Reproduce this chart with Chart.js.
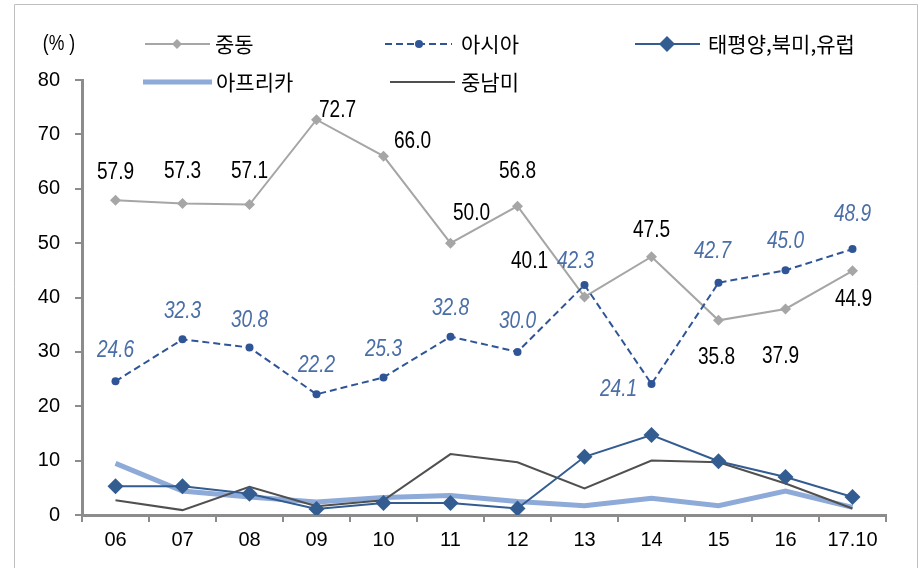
<!DOCTYPE html>
<html>
<head>
<meta charset="utf-8">
<script src="https://cdn.jsdelivr.net/npm/chart.js@4.4.1/dist/chart.umd.min.js"></script>
<style>
  html, body { margin: 0; padding: 0; background: #fff; }
</style>
</head>
<body>
<canvas id="chart" width="922" height="568"></canvas>
<script>
const years = ['06', '07', '08', '09', '10', '11', '12', '13', '14', '15', '16', '17.10'];
const middleEast = [57.9, 57.3, 57.1, 72.7, 66.0, 50.0, 56.8, 40.1, 47.5, 35.8, 37.9, 44.9];
const asia = [24.6, 32.3, 30.8, 22.2, 25.3, 32.8, 30.0, 42.3, 24.1, 42.7, 45.0, 48.9];
const pacificNaEurope = [5.3, 5.3, 3.9, 1.1, 2.2, 2.2, 1.2, 10.7, 14.7, 9.9, 7.0, 3.3];
const africa = [9.5, 4.4, 3.3, 2.4, 3.2, 3.6, 2.5, 1.7, 3.1, 1.7, 4.4, 1.4];
const latinAmerica = [2.7, 0.9, 5.2, 1.6, 2.7, 11.2, 9.7, 4.9, 10.0, 9.7, 5.8, 1.2];

const numFont = '"Liberation Sans", Arial, sans-serif';
const krFont = '"Noto Sans CJK KR", "Noto Sans", sans-serif';

// label offsets (dx, dy) from each point
const meLabelPos = [[0,-28],[0,-32],[0,-33],[21,-9],[29,-14],[21,-29],[0,-34],[-55,-35],[0,-26],[-2,37],[-5,48],[1,29]];
const asiaLabelPos = [[0,-31],[0,-28],[0,-27],[0,-29],[0,-28],[0,-28],[0,-30],[-9,-23],[-33,6],[-6,-31],[0,-29],[0,-34]];

// the original uses a condensed face, squeeze text horizontally
function narrowText(ctx, text, x, y, sx) {
    ctx.save();
    ctx.translate(x, y);
    ctx.scale(sx, 1);
    ctx.fillText(text, 0, 0);
    ctx.restore();
}

const valueLabels = {
    id: 'valueLabels',
    afterDatasetsDraw(chart) {
        const ctx = chart.ctx;
        ctx.save();
        ctx.textAlign = 'center';
        ctx.textBaseline = 'middle';
        // 중동
        ctx.font = '23px ' + numFont;
        ctx.fillStyle = '#000';
        chart.getDatasetMeta(0).data.forEach(function (pt, i) {
            narrowText(ctx, middleEast[i].toFixed(1), pt.x + meLabelPos[i][0], pt.y + meLabelPos[i][1], 0.83);
        });
        // 아시아
        ctx.font = 'italic 23px ' + numFont;
        ctx.fillStyle = '#4a6ea6';
        chart.getDatasetMeta(1).data.forEach(function (pt, i) {
            narrowText(ctx, asia[i].toFixed(1), pt.x + asiaLabelPos[i][0], pt.y + asiaLabelPos[i][1], 0.83);
        });
        ctx.restore();
    }
};

function diamond(ctx, x, y, r, color) {
    ctx.beginPath();
    ctx.moveTo(x, y - r);
    ctx.lineTo(x + r, y);
    ctx.lineTo(x, y + r);
    ctx.lineTo(x - r, y);
    ctx.closePath();
    ctx.fillStyle = color;
    ctx.fill();
}

const legendAndFrame = {
    id: 'legendAndFrame',
    afterDraw(chart) {
        const ctx = chart.ctx;
        ctx.save();
        // outer frame (no bottom edge visible)
        ctx.strokeStyle = '#bfbfbf';
        ctx.lineWidth = 1;
        ctx.beginPath();
        ctx.moveTo(14.5, 570);
        ctx.lineTo(14.5, 4.5);
        ctx.lineTo(917.5, 4.5);
        ctx.lineTo(917.5, 570);
        ctx.stroke();

        ctx.textBaseline = 'middle';
        ctx.textAlign = 'center';
        ctx.fillStyle = '#000';
        ctx.font = '22px ' + numFont;
        narrowText(ctx, '(% )', 59, 44, 0.8);

        ctx.textAlign = 'left';
        ctx.font = '21px ' + krFont;

        // 중동
        ctx.strokeStyle = '#a6a6a6';
        ctx.lineWidth = 2;
        ctx.beginPath(); ctx.moveTo(145, 44); ctx.lineTo(210, 44); ctx.stroke();
        diamond(ctx, 177, 44, 5, '#a6a6a6');
        ctx.fillStyle = '#000';
        ctx.fillText('중동', 215, 44);

        // 아시아
        ctx.strokeStyle = '#2f5597';
        ctx.setLineDash([7, 4]);
        ctx.beginPath(); ctx.moveTo(385, 44); ctx.lineTo(452, 44); ctx.stroke();
        ctx.setLineDash([]);
        ctx.beginPath(); ctx.arc(419, 44, 4, 0, Math.PI * 2);
        ctx.fillStyle = '#2f5597'; ctx.fill();
        ctx.fillStyle = '#000';
        ctx.fillText('아시아', 461, 44);

        // 태평양,북미,유럽
        ctx.strokeStyle = '#335c91';
        ctx.beginPath(); ctx.moveTo(635, 44); ctx.lineTo(700, 44); ctx.stroke();
        diamond(ctx, 667, 44, 8, '#335c91');
        ctx.fillStyle = '#000';
        ctx.fillText('태평양,북미,유럽', 708, 44);

        // 아프리카
        ctx.strokeStyle = '#8eaad8';
        ctx.lineWidth = 5;
        ctx.beginPath(); ctx.moveTo(143, 82); ctx.lineTo(212, 82); ctx.stroke();
        ctx.fillText('아프리카', 216, 82);

        // 중남미
        ctx.strokeStyle = '#505050';
        ctx.lineWidth = 2;
        ctx.beginPath(); ctx.moveTo(390, 82); ctx.lineTo(455, 82); ctx.stroke();
        ctx.fillText('중남미', 461, 82);
        ctx.restore();
    }
};

const config = {
    type: 'line',
    data: {
        labels: years,
        datasets: [
            {
                label: '중동',
                data: middleEast,
                borderColor: '#a6a6a6',
                backgroundColor: '#a6a6a6',
                borderWidth: 2,
                pointStyle: 'rectRot',
                pointRadius: 5.5,
                pointBorderWidth: 0,
                order: 2
            },
            {
                label: '아시아',
                data: asia,
                borderColor: '#2f5597',
                backgroundColor: '#2f5597',
                borderWidth: 2,
                borderDash: [7, 4],
                pointStyle: 'circle',
                pointRadius: 4,
                pointBorderWidth: 0,
                order: 1
            },
            {
                label: '태평양,북미,유럽',
                data: pacificNaEurope,
                borderColor: '#335c91',
                backgroundColor: '#335c91',
                borderWidth: 2,
                pointStyle: 'rectRot',
                pointRadius: 8,
                pointBorderWidth: 0,
                order: 3
            },
            {
                label: '아프리카',
                data: africa,
                borderColor: '#8eaad8',
                backgroundColor: '#8eaad8',
                borderWidth: 5,
                pointRadius: 0,
                order: 5
            },
            {
                label: '중남미',
                data: latinAmerica,
                borderColor: '#505050',
                backgroundColor: '#505050',
                borderWidth: 2,
                pointRadius: 0,
                order: 4
            }
        ]
    },
    options: {
        responsive: false,
        animation: false,
        layout: { padding: { left: 0, top: 80, right: 36, bottom: 0 } },
        plugins: {
            legend: { display: false },
            tooltip: { enabled: false }
        },
        scales: {
            x: {
                offset: true,
                grid: {
                    offset: true,
                    drawOnChartArea: false,
                    drawTicks: true,
                    tickLength: 7,
                    color: '#8c8c8c',
                    lineWidth: 2
                },
                border: { color: '#8c8c8c', width: 3 },
                ticks: { color: '#000', font: { family: numFont, size: 20 }, padding: 6, maxRotation: 0 },
                afterFit: function (scale) { scale.height = 53; }
            },
            y: {
                min: 0,
                max: 80,
                grid: {
                    drawOnChartArea: false,
                    drawTicks: true,
                    tickLength: 7,
                    color: '#8c8c8c',
                    lineWidth: 2
                },
                border: { color: '#8c8c8c', width: 3 },
                ticks: { stepSize: 10, color: '#000', font: { family: numFont, size: 20 }, padding: 15 },
                afterFit: function (scale) { scale.width = 82; }
            }
        }
    },
    plugins: [valueLabels, legendAndFrame]
};

new Chart(document.getElementById('chart'), config);
</script>
</body>
</html>
